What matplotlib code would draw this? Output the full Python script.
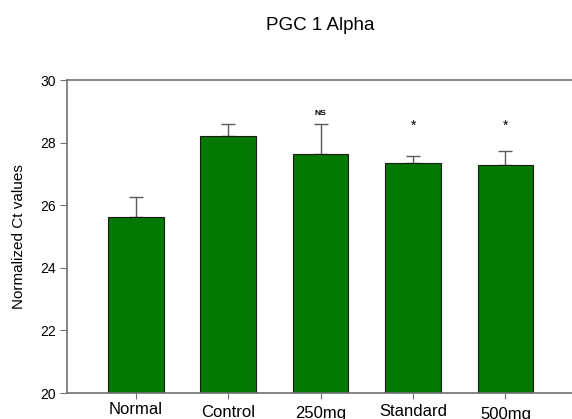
import matplotlib.pyplot as plt
import matplotlib.transforms as mtransforms

plt.rcParams['font.family'] = ['Liberation Sans', 'DejaVu Sans']

groups = ["Normal", "Control", "250mg", "Standard", "500mg"]
means = [25.61, 28.21, 27.65, 27.35, 27.29]
errors = [0.64, 0.39, 0.96, 0.22, 0.45]
marks = ["", "", "NS", "*", "*"]
mark_y = [0, 0, 28.93, 28.54, 28.54]

# staggered category labels: pixel drop below the axis line
label_drop = [9, 12, 13, 11, 14]

fig = plt.figure(figsize=(5.72, 4.19), dpi=100)
ax = fig.add_axes([0.117, 0.062, 0.883, 0.747])

x = list(range(len(groups)))
ax.bar(x, means, width=0.6, color="#037803", edgecolor="#1a1a1a", linewidth=0.8, zorder=2)
ax.errorbar(x, means, yerr=[[0] * len(errors), errors], fmt="none",
            ecolor="#5a5a5a", elinewidth=1.0, capsize=5, capthick=1.0, zorder=1)

for xi, s, yy in zip(x, marks, mark_y):
    if s == "NS":
        ax.text(xi, yy, s, ha="center", va="center", fontsize=6, fontweight="bold")
    elif s:
        ax.text(xi, yy, s, ha="center", va="center", fontsize=10)

ax.set_ylim(20, 30)
ax.set_xlim(-0.745, 4.72)
ax.set_yticks([20, 22, 24, 26, 28, 30])
ax.set_xticks(x)
ax.set_xticklabels([])

base = mtransforms.blended_transform_factory(ax.transData, ax.transAxes)
for xi, name, d in zip(x, groups, label_drop):
    tr = base + mtransforms.ScaledTranslation(0, -d / 100, fig.dpi_scale_trans)
    ax.text(xi, 0, name, transform=tr, ha="center", va="top", fontsize=12, clip_on=False)

ax.tick_params(axis="y", labelsize=10, length=5, color="#707070", pad=3)
ax.tick_params(axis="x", length=4, color="#707070")
ax.spines["right"].set_visible(False)
for sp in ["left", "top", "bottom"]:
    ax.spines[sp].set_color("#707070")
    ax.spines[sp].set_linewidth(1.2)

ax.set_ylabel("Normalized Ct values", fontsize=11, labelpad=10)
fig.text(0.56, 0.94, "PGC 1 Alpha", ha="center", va="center", fontsize=13.5)

fig.savefig("out.png", dpi=100)
